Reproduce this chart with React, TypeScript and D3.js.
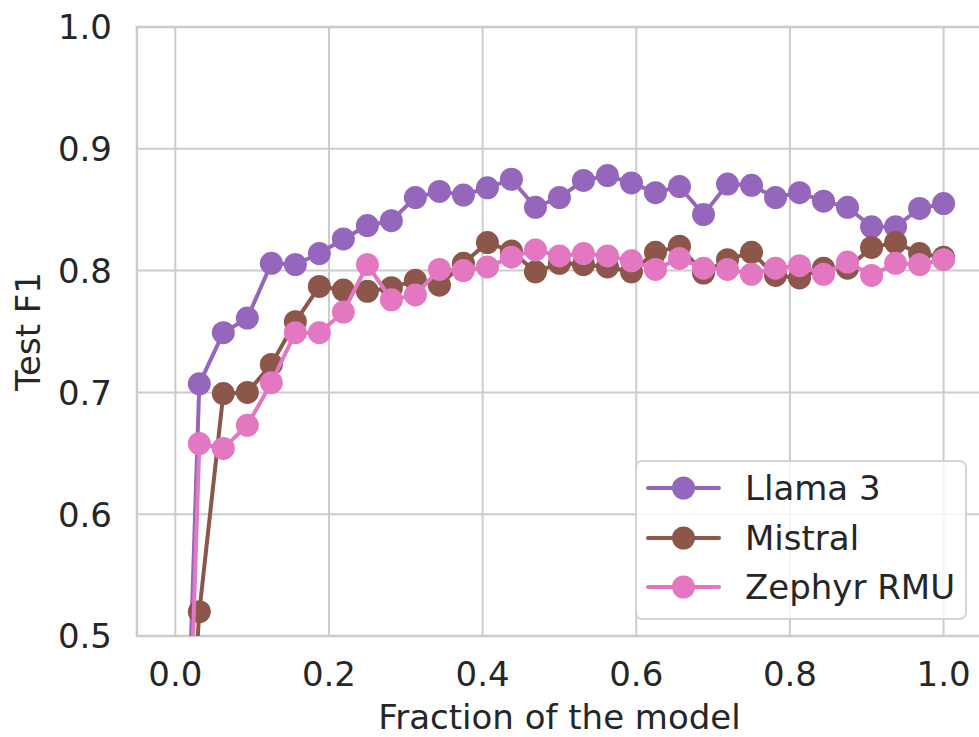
import React from "react";
import * as d3 from "d3";

const xs: number[] = Array.from({ length: 33 }, (_, i) => i / 32);

const llama3: number[] = [
  0.1, 0.707, 0.749, 0.761, 0.806, 0.805, 0.814, 0.826, 0.837, 0.841, 0.86,
  0.865, 0.862, 0.868, 0.875, 0.852, 0.86, 0.874, 0.878, 0.872, 0.864, 0.869,
  0.846, 0.871, 0.87, 0.86, 0.864, 0.857, 0.852, 0.836, 0.836, 0.851, 0.855,
];
const mistral: number[] = [
  0.2, 0.52, 0.699, 0.7, 0.723, 0.758, 0.787, 0.784, 0.783, 0.786, 0.792,
  0.788, 0.806, 0.823, 0.816, 0.799, 0.806, 0.805, 0.803, 0.799, 0.815, 0.82,
  0.798, 0.809, 0.815, 0.796, 0.794, 0.802, 0.802, 0.819, 0.823, 0.814, 0.811,
];
const zephyr: number[] = [
  0.05, 0.658, 0.654, 0.673, 0.708, 0.749, 0.749, 0.766, 0.805, 0.776, 0.78,
  0.801, 0.8, 0.803, 0.811, 0.817, 0.812, 0.814, 0.812, 0.808, 0.801, 0.81,
  0.802, 0.801, 0.797, 0.802, 0.804, 0.797, 0.807, 0.796, 0.806, 0.805, 0.809,
];

const seriesNames = ["Llama 3", "Mistral", "Zephyr RMU"];
const seriesValues = [llama3, mistral, zephyr];
const seriesColors = ["#9467bd", "#8c564b", "#e377c2"];

const xTicks = [0, 0.2, 0.4, 0.6, 0.8, 1.0];
const yTicks = [0.5, 0.6, 0.7, 0.8, 0.9, 1.0];
const xLabel = "Fraction of the model";
const yLabel = "Test F1";

const W = 979;
const H = 737;
const left = 136.9;
const right = 982;
const top = 27;
const bottom = 636;

export default function App() {
  const x = d3.scaleLinear().domain([-0.05, 1.05]).range([left, right]);
  const y = d3.scaleLinear().domain([0.5, 1.0]).range([bottom, top]);
  const line = d3
    .line<number>()
    .x((_, i) => x(xs[i]))
    .y((d) => y(d));
  const textColor = "#262626";
  const gridColor = "#cccccc";
  const font = "DejaVu Sans";
  const legX = 636;
  const legY = 461;
  const legW = 330;
  const legH = 158;
  const rows = [488, 538, 587];

  return (
    <svg
      width={W}
      height={H}
      style={{ position: "absolute", left: 0, top: 0 }}
      fontFamily={font}
    >
      <defs>
        <clipPath id="plot">
          <rect x={left} y={top} width={right - left} height={bottom - top} />
        </clipPath>
      </defs>
      <rect x={0} y={0} width={W} height={H} fill="#fff" />
      {xTicks.map((t) => (
        <line
          key={"gx" + t}
          x1={x(t)}
          x2={x(t)}
          y1={top}
          y2={bottom}
          stroke={gridColor}
          strokeWidth={2}
        />
      ))}
      {yTicks.map((t) => (
        <line
          key={"gy" + t}
          x1={left}
          x2={right}
          y1={y(t)}
          y2={y(t)}
          stroke={gridColor}
          strokeWidth={2}
        />
      ))}
      <rect
        x={left}
        y={top}
        width={right - left}
        height={bottom - top}
        fill="none"
        stroke={gridColor}
        strokeWidth={2.5}
      />
      <g clipPath="url(#plot)">
        {seriesValues.map((vals, si) => (
          <g key={"s" + si}>
            <path
              d={line(vals) || ""}
              fill="none"
              stroke={seriesColors[si]}
              strokeWidth={4}
              strokeLinejoin="round"
            />
            {vals.map((v, i) => (
              <circle
                key={i}
                cx={x(xs[i])}
                cy={y(v)}
                r={11.5}
                fill={seriesColors[si]}
              />
            ))}
          </g>
        ))}
      </g>
      {xTicks.map((t) => (
        <text
          key={"tx" + t}
          x={x(t)}
          y={686}
          textAnchor="middle"
          fontSize={34}
          fill={textColor}
        >
          {t.toFixed(1)}
        </text>
      ))}
      {yTicks.map((t) => (
        <text
          key={"ty" + t}
          x={112}
          y={y(t) + 12.4}
          textAnchor="end"
          fontSize={34}
          fill={textColor}
        >
          {t.toFixed(1)}
        </text>
      ))}
      <text
        x={(left + right) / 2}
        y={729}
        textAnchor="middle"
        fontSize={34}
        fill={textColor}
      >
        {xLabel}
      </text>
      <text
        transform={`translate(40, ${(top + bottom) / 2}) rotate(-90)`}
        textAnchor="middle"
        fontSize={34}
        fill={textColor}
      >
        {yLabel}
      </text>
      <rect
        x={legX}
        y={legY}
        width={legW}
        height={legH}
        rx={6}
        fill="#fff"
        fillOpacity={0.8}
        stroke="#d4d4d4"
        strokeWidth={2}
      />
      {seriesNames.map((n, i) => (
        <g key={"l" + i}>
          <line
            x1={648}
            x2={719}
            y1={rows[i]}
            y2={rows[i]}
            stroke={seriesColors[i]}
            strokeWidth={4}
            strokeLinecap="round"
          />
          <circle cx={683.5} cy={rows[i]} r={11.5} fill={seriesColors[i]} />
          <text
            x={745}
            y={rows[i] + 12.4}
            fontSize={34}
            fill={textColor}
          >
            {n}
          </text>
        </g>
      ))}
    </svg>
  );
}
